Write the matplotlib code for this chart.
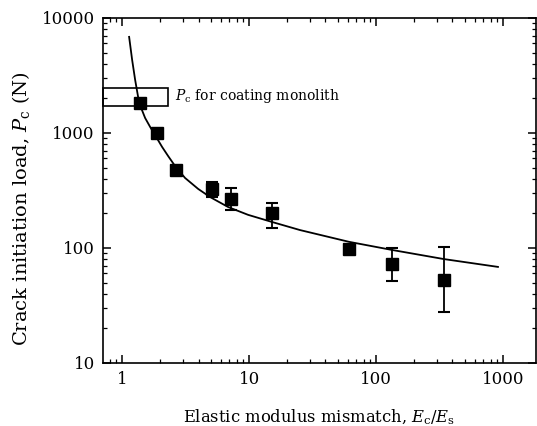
import numpy as np
import matplotlib.pyplot as plt
from matplotlib.patches import Rectangle
from matplotlib.ticker import LogLocator, NullFormatter, FixedLocator, FixedFormatter

plt.rcParams['font.family'] = ['DejaVu Serif']
plt.rcParams['mathtext.fontset'] = 'dejavuserif'

# measured points
ratio = [1.39, 1.89, 2.66, 5.11, 7.21, 15.2, 61.3, 134, 343]
pc = [1820, 1000, 476, 326, 267, 201, 98, 73, 53]
err_top = [np.nan, np.nan, np.nan, 375, 333, 246, np.nan, 100, 102]
err_bot = [np.nan, np.nan, np.nan, 277, 214, 149, np.nan, 52, 28]

# fitted curve
fit_ratio = [1.135, 1.199, 1.266, 1.336, 1.411, 1.517, 1.662, 1.853, 2.065, 2.30,
             2.61, 3.13, 3.97, 4.93, 6.83, 9.82, 15.2, 25.2, 61.3, 134, 343, 914]
fit_pc = [6840, 4310, 2890, 2056, 1649, 1349, 1127, 923, 755, 631,
          516, 406, 326, 277, 227, 194, 168, 143, 113, 96, 80, 68.4]

# Pc band for the coating monolith
monolith_pc = [1720, 2460]
monolith_xmax = 2.3

xticks = [1, 10, 100, 1000]
yticks = [10, 100, 1000, 10000]

fig = plt.figure(figsize=(5.37, 4.26), dpi=100)
ax = fig.add_axes([0.192, 0.148, 0.806, 0.81])

ax.plot(fit_ratio, fit_pc, color='black', lw=1.3)

x = np.array(ratio)
y = np.array(pc)
top = np.array(err_top)
bot = np.array(err_bot)
m = ~np.isnan(top)
ax.errorbar(x[m], y[m], yerr=[y[m] - bot[m], top[m] - y[m]], fmt='none',
            ecolor='black', elinewidth=1.3, capsize=4.5, capthick=1.5)
ax.plot(x, y, 's', color='black', markersize=9)

ax.set_xscale('log')
ax.set_yscale('log')
ax.set_xlim(0.708, 1820)
ax.set_ylim(10, 10000)

xmin = ax.get_xlim()[0]
ax.add_patch(Rectangle((xmin, monolith_pc[0]), monolith_xmax - xmin,
                       monolith_pc[1] - monolith_pc[0], fill=False,
                       edgecolor='black', lw=1.2, clip_on=False))
ax.text(2.62, np.sqrt(monolith_pc[0] * monolith_pc[1]) * 1.01,
        r'$P_{\rm c}$ for coating monolith', fontsize=10, va='center', ha='left')

ax.xaxis.set_major_locator(FixedLocator(xticks))
ax.xaxis.set_major_formatter(FixedFormatter([str(t) for t in xticks]))
ax.yaxis.set_major_locator(FixedLocator(yticks))
ax.yaxis.set_major_formatter(FixedFormatter([str(t) for t in yticks]))
for axis in (ax.xaxis, ax.yaxis):
    axis.set_minor_locator(LogLocator(base=10, subs=np.arange(2, 10), numticks=20))
    axis.set_minor_formatter(NullFormatter())

ax.tick_params(which='both', direction='in', top=True, right=True, labelsize=12)
ax.tick_params(which='major', length=6, width=1.1, pad=6)
ax.tick_params(which='minor', length=3, width=0.9)
for s in ax.spines.values():
    s.set_linewidth(1.2)

ax.set_ylabel(r'Crack initiation load, $P_{\rm c}$ (N)', fontsize=14)
ax.yaxis.set_label_coords(-0.164, 0.446)
ax.set_xlabel(r'Elastic modulus mismatch, $E_{\rm c}/E_{\rm s}$', fontsize=11.8, labelpad=14)

fig.savefig('out.png', dpi=100)
